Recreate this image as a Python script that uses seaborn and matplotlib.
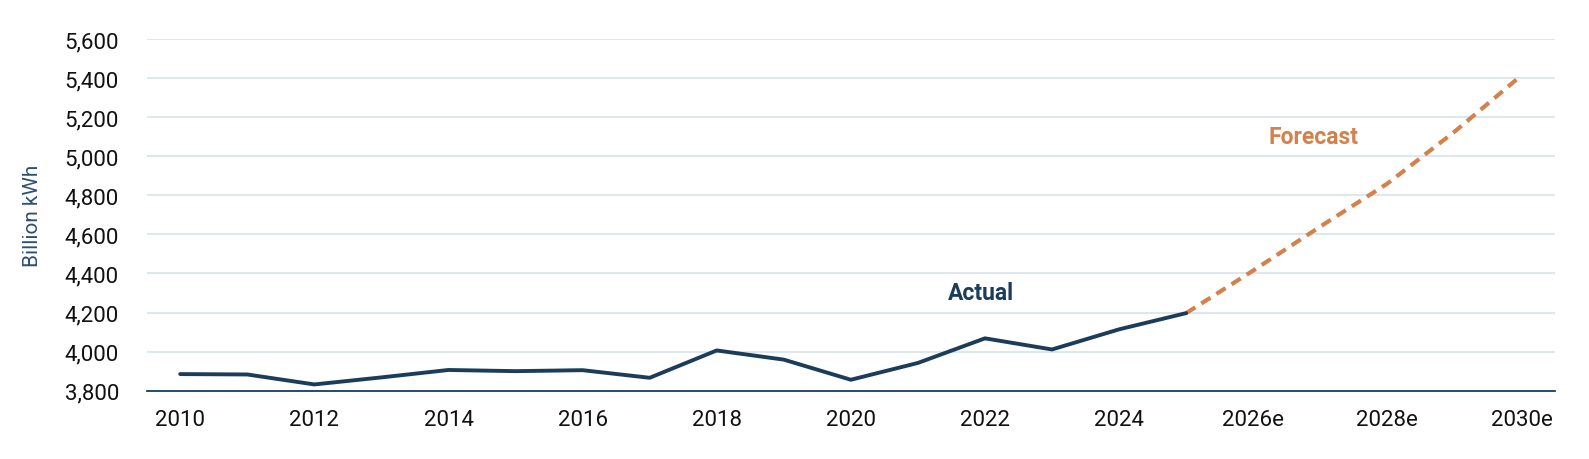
import seaborn as sns
import pandas as pd
from matplotlib import pyplot as plt

# Data (billion kWh)
actual_years = [2010, 2011, 2012, 2013, 2014, 2015, 2016, 2017,
                2018, 2019, 2020, 2021, 2022, 2023, 2024, 2025]
actual_values = [3885, 3883, 3832, 3868, 3906, 3900, 3905, 3866,
                 4006, 3959, 3856, 3942, 4068, 4011, 4114, 4197]

forecast_years = [2025, 2026, 2027, 2028, 2029, 2030]
forecast_values = [4197, 4415, 4640, 4860, 5125, 5414]

x_ticks = [2010, 2012, 2014, 2016, 2018, 2020, 2022, 2024, 2026, 2028, 2030]
x_tick_labels = ['2010', '2012', '2014', '2016', '2018', '2020', '2022', '2024',
                 '2026e', '2028e', '2030e']
y_ticks = [3800, 4000, 4200, 4400, 4600, 4800, 5000, 5200, 5400, 5600]

navy = '#1c3d5a'
orange = '#d3824d'

df_actual = pd.DataFrame({'year': actual_years, 'value': actual_values})
df_forecast = pd.DataFrame({'year': forecast_years, 'value': forecast_values})

sns.set_theme(style='white')
plt.rcParams['font.family'] = ['Roboto', 'DejaVu Sans']

fig, ax = plt.subplots(figsize=(15.89, 4.6), dpi=100)
fig.subplots_adjust(left=0.0923, right=0.9786, top=0.913, bottom=0.1485)

sns.lineplot(data=df_forecast, x='year', y='value', ax=ax, color=orange,
             linewidth=3.0, linestyle=(0, (2.6, 1.7)), zorder=3)
sns.lineplot(data=df_actual, x='year', y='value', ax=ax, color=navy,
             linewidth=2.8, zorder=4)

ax.set_xlim(2009.5, 2030.5)
ax.set_ylim(3800, 5600)
ax.set_xticks(x_ticks)
ax.set_xticklabels(x_tick_labels)
ax.set_yticks(y_ticks)
ax.set_yticklabels([f'{v:,}' for v in y_ticks])
ax.tick_params(axis='both', length=0, labelsize=16, colors='#111111')
ax.tick_params(axis='x', pad=13)
ax.tick_params(axis='y', pad=20)

ax.yaxis.grid(True, color='#d5e3ee', linewidth=1.2)
ax.xaxis.grid(False)
ax.set_axisbelow(True)
for side in ['left', 'right', 'top']:
    ax.spines[side].set_visible(False)
ax.spines['bottom'].set_color(navy)
ax.spines['bottom'].set_linewidth(1.3)

ax.set_xlabel('')
ax.set_ylabel('Billion kWh', fontsize=15, color='#2d5070', labelpad=16)

ax.text(2021.94, 4305, 'Actual', color=navy, fontsize=16.5, fontweight='bold',
        ha='center', va='center')
ax.text(2026.9, 5100, 'Forecast', color=orange, fontsize=16.5, fontweight='bold',
        ha='center', va='center')

plt.savefig('out.png', dpi=100)
